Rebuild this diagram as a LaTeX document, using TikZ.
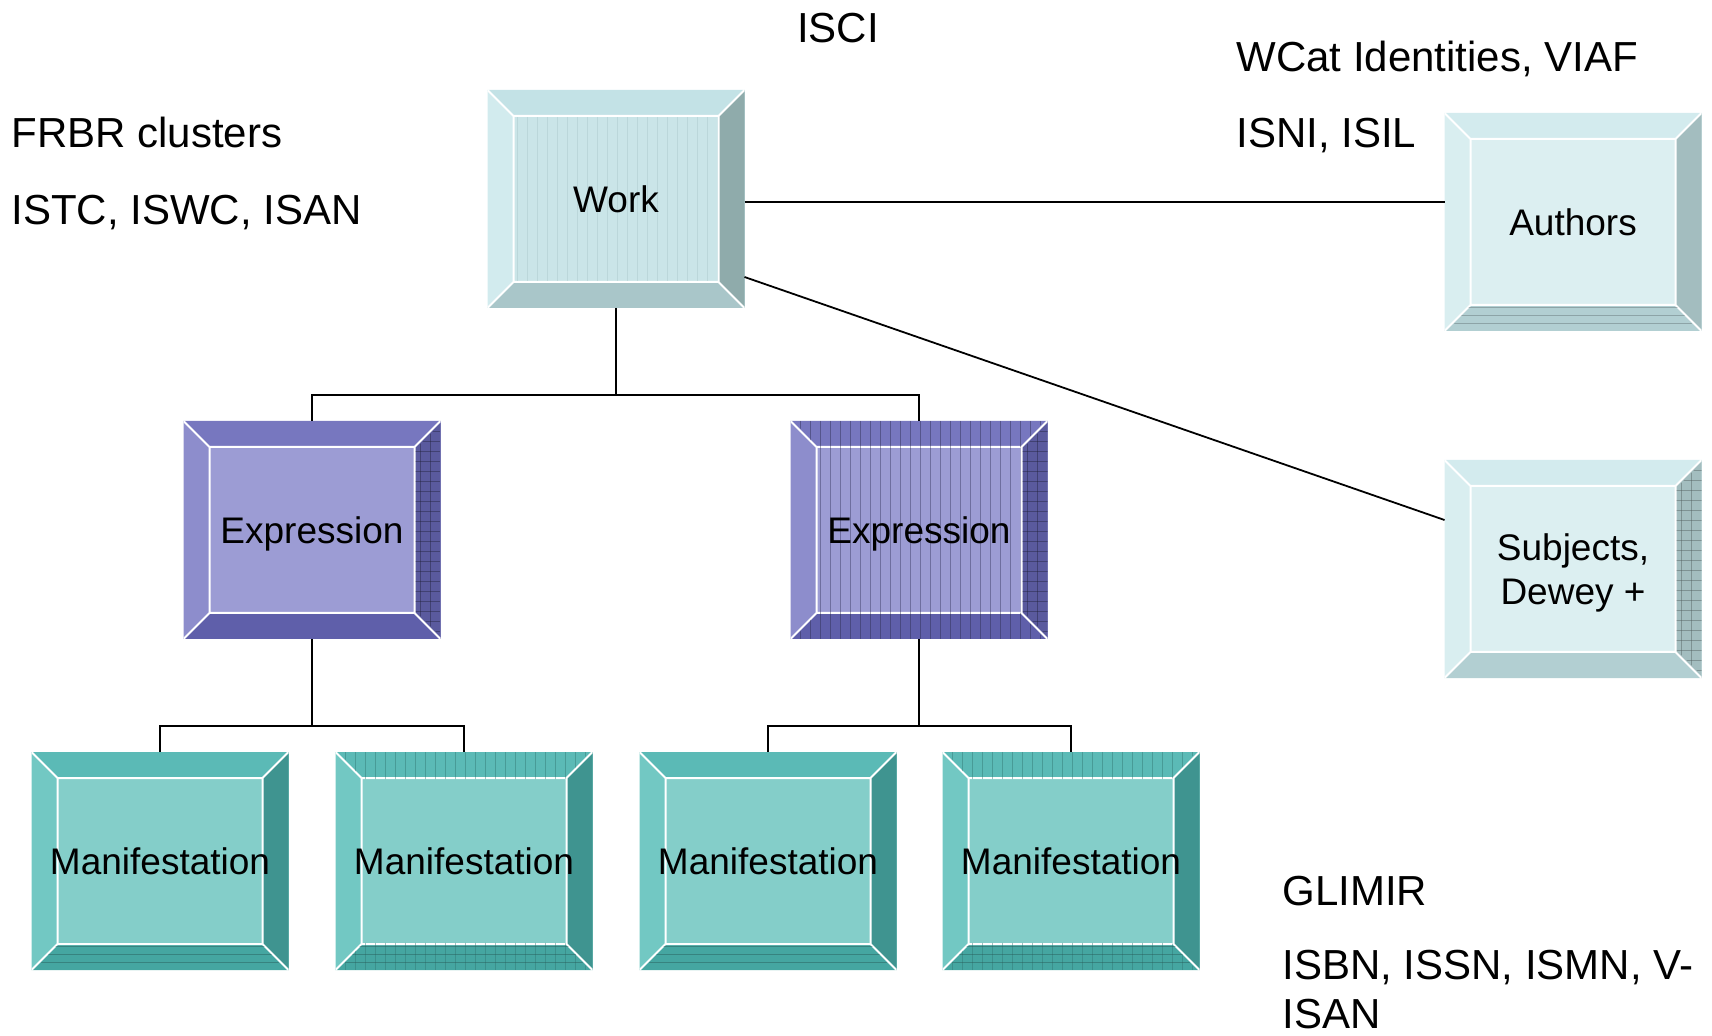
\documentclass[tikz,border=0pt]{standalone}
\usepackage{fontspec}
\setmainfont{Liberation Sans}
\usetikzlibrary{calc}

\definecolor{workface}{HTML}{CAE5E8}
\definecolor{worktop}{HTML}{C3E2E6}
\definecolor{workleft}{HTML}{D2EBEE}
\definecolor{workright}{HTML}{8FABAB}
\definecolor{workbot}{HTML}{A9C6C9}
\definecolor{authface}{HTML}{DCEFF1}
\definecolor{authtop}{HTML}{D3EBEE}
\definecolor{authleft}{HTML}{D9EEF0}
\definecolor{authright}{HTML}{A3BDBF}
\definecolor{authbot}{HTML}{B2CFD2}
\definecolor{exprface}{HTML}{9C9CD4}
\definecolor{exprtop}{HTML}{7777BF}
\definecolor{exprleft}{HTML}{8D8DCC}
\definecolor{exprright}{HTML}{5A5A9E}
\definecolor{exprbot}{HTML}{5F5FAA}
\definecolor{maniface}{HTML}{84CEC9}
\definecolor{manitop}{HTML}{5BBAB6}
\definecolor{manileft}{HTML}{72C8C3}
\definecolor{maniright}{HTML}{3F9490}
\definecolor{manibot}{HTML}{45A6A1}

\newcommand{\boxfont}{\fontsize{18.5pt}{22.4pt}\selectfont}
\newcommand{\labfont}{\fontsize{21pt}{24.5pt}\selectfont}
% outer and inner corners of a bevelled box
\newcommand{\bevcorners}{%
  \coordinate (o1) at (path picture bounding box.north west);
  \coordinate (o2) at (path picture bounding box.north east);
  \coordinate (o3) at (path picture bounding box.south east);
  \coordinate (o4) at (path picture bounding box.south west);
  \coordinate (i1) at ([shift={(13pt,-13pt)}]o1);
  \coordinate (i2) at ([shift={(-13pt,-13pt)}]o2);
  \coordinate (i3) at ([shift={(-13pt,13pt)}]o3);
  \coordinate (i4) at ([shift={(13pt,13pt)}]o4);}

\tikzset{
  bevel/.style n args={5}{rectangle, inner sep=0pt, outer sep=0pt,
    minimum width=128.5pt, minimum height=109pt, fill=#1,
    font=\boxfont, align=center, text depth=0pt,
    path picture={
      \bevcorners
      \fill[#2] (o1) -- (o2) -- (i2) -- (i1) -- cycle;
      \fill[#3] (o1) -- (i1) -- (i4) -- (o4) -- cycle;
      \fill[#4] (o2) -- (o3) -- (i3) -- (i2) -- cycle;
      \fill[#5] (o4) -- (i4) -- (i3) -- (o3) -- cycle;
      \draw[white, line width=1pt] (i1) rectangle (i3)
        (o1) -- (i1) (o2) -- (i2) (o3) -- (i3) (o4) -- (i4);
    }},
  grain/.style={draw=#1, line width=0.35pt, opacity=0.45},
  % textures
  facegrain/.style={postaction={path picture={
      \bevcorners
      \clip ([shift={(0.6pt,-0.6pt)}]i1) rectangle ([shift={(-0.6pt,0.6pt)}]i3);
      \foreach \k in {1,...,25}
        \draw[grain=#1] ([xshift=\k*5pt]o1) -- ([xshift=\k*5pt]o4);
    }}},
  rimgrain/.style={postaction={path picture={
      \bevcorners
      \clip ([shift={(1.5pt,0pt)}]o1) -- ([shift={(-1.5pt,0pt)}]o2)
        -- ([shift={(-0.8pt,-0.6pt)}]i2) -- ([shift={(0.8pt,-0.6pt)}]i1) -- cycle
        ([shift={(1.5pt,0pt)}]o4) -- ([shift={(0.8pt,0.6pt)}]i4)
        -- ([shift={(-0.8pt,0.6pt)}]i3) -- ([shift={(-1.5pt,0pt)}]o3) -- cycle;
      \foreach \k in {1,...,25}
        \draw[grain=#1] ([xshift=\k*5pt]o1) -- ([xshift=\k*5pt]o4);
    }}},
  sidegrid/.style={postaction={path picture={
      \bevcorners
      \clip ([shift={(0pt,-1.5pt)}]o2) -- ([shift={(0pt,1.5pt)}]o3)
        -- ([shift={(0.6pt,0.8pt)}]i3) -- ([shift={(0.6pt,-0.8pt)}]i2) -- cycle;
      \foreach \k in {1,2}
        \draw[grain=#1] ([xshift=-\k*5pt]o2) -- ([xshift=-\k*5pt]o3);
      \foreach \k in {1,...,21}
        \draw[grain=#1] ([yshift=-\k*5pt]o2) -- ([yshift=-\k*5pt,xshift=-14pt]o2);
    }}},
  basegrain/.style={postaction={path picture={
      \bevcorners
      \clip ([shift={(1.5pt,0pt)}]o4) -- ([shift={(0.8pt,0.6pt)}]i4)
        -- ([shift={(-0.8pt,0.6pt)}]i3) -- ([shift={(-1.5pt,0pt)}]o3) -- cycle;
      \foreach \k in {1,...,3}
        \draw[grain=#1] ([yshift=\k*4pt]o4) -- ([yshift=\k*4pt]o3);
    }}},
  workbox/.style={bevel={workface}{worktop}{workleft}{workright}{workbot}},
  authbox/.style={bevel={authface}{authtop}{authleft}{authright}{authbot}},
  exprbox/.style={bevel={exprface}{exprtop}{exprleft}{exprright}{exprbot}},
  manibox/.style={bevel={maniface}{manitop}{manileft}{maniright}{manibot}},
  lab/.style={inner sep=0pt, font=\labfont, align=left},
  link/.style={draw, line width=0.9pt}
}

\begin{document}
\begin{tikzpicture}[x=0.5pt, y=-0.5pt]
\useasboundingbox (0,0) rectangle (1712,1036);

% boxes
\node[workbox, facegrain=workbot] (work) at (616,199) {Work};
\node[authbox, basegrain=authright!60!black] (auth) at (1573,222) {Authors};
\node[authbox, sidegrid=authright!50!black] (subj) at (1573,569) {Subjects,\\Dewey +};
\node[exprbox, sidegrid=exprright!40!black] (expr1) at (312,530) {Expression};
\node[exprbox, facegrain=exprright!60!black, rimgrain=exprright!50!black,
  sidegrid=exprright!40!black] (expr2) at (919,530) {Expression};
\node[manibox, basegrain=maniright!60!black] (man1) at (160,861) {Manifestation};
\node[manibox, rimgrain=maniright!80!black, basegrain=maniright!60!black] (man2) at (464,861) {Manifestation};
\node[manibox, basegrain=maniright!60!black] (man3) at (768,861) {Manifestation};
\node[manibox, rimgrain=maniright!80!black, basegrain=maniright!60!black] (man4) at (1071,861) {Manifestation};

% labels
\node[lab, anchor=base] (isci) at (838,43) {ISCI};
\node[lab, anchor=base west] (wcat) at (1236,72) {WCat Identities, VIAF};
\node[lab, anchor=base west] (isni) at (1236,148) {ISNI, ISIL};
\node[lab, anchor=base west] (frbr) at (11,148) {FRBR clusters};
\node[lab, anchor=base west] (istc) at (11,225) {ISTC, ISWC, ISAN};
\node[lab, anchor=base west] (glimir) at (1282,905) {GLIMIR};
\node[lab, anchor=north west] (isbn) at (1282,950) {ISBN, ISSN, ISMN, V-\\ISAN};

% connectors
\draw[link] (work.south) -- (work.south |- 0,395);
\draw[link] (expr1.north) -- (expr1.north |- 0,395) -- (expr2.north |- 0,395) -- (expr2.north);
\draw[link] (expr1.south) -- (expr1.south |- 0,726);
\draw[link] (man1.north) -- (man1.north |- 0,726) -- (man2.north |- 0,726) -- (man2.north);
\draw[link] (expr2.south) -- (expr2.south |- 0,726);
\draw[link] (man3.north) -- (man3.north |- 0,726) -- (man4.north |- 0,726) -- (man4.north);
\draw[link] ([yshift=-1.6pt]work.east) -- ([yshift=-1.6pt]work.east -| auth.west);
\draw[link] ([yshift=15.5pt]work.south east) -- ([yshift=-30pt]subj.north west);
\end{tikzpicture}
\end{document}
